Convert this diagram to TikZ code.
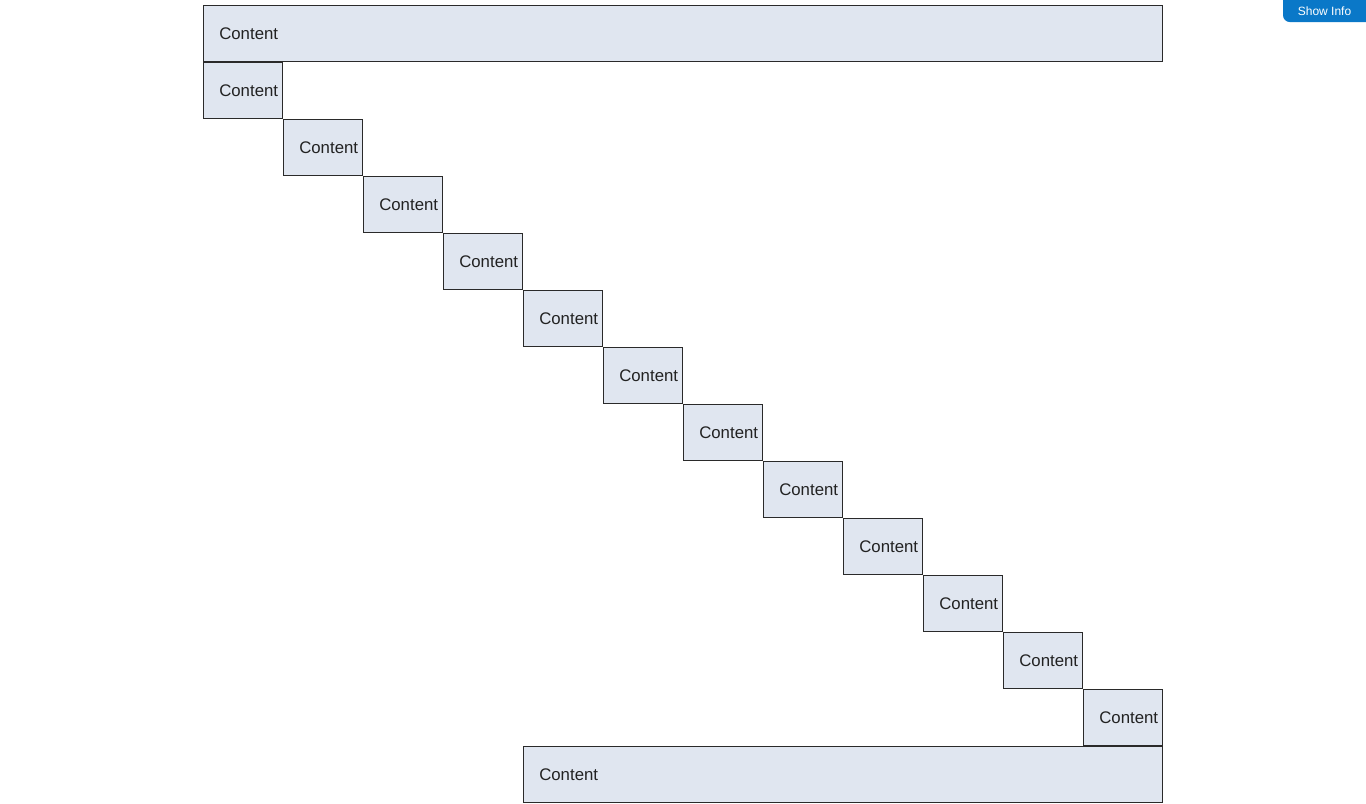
\documentclass[tikz,border=0pt]{standalone}
\usepackage{fontspec}
\setmainfont{Liberation Sans}
\definecolor{boxfill}{HTML}{E0E6F0}
\definecolor{boxline}{HTML}{2A2A2A}
\definecolor{btnblue}{HTML}{0A78C8}
\definecolor{txt}{HTML}{222222}
\begin{document}
\begin{tikzpicture}[x=0.75pt,y=-0.75pt,
  cell/.style={draw=boxline,fill=boxfill,line width=0.75pt},
  label/.style={anchor=west,text=txt,font=\fontsize{12.6}{14}\selectfont,inner sep=0pt}]
\useasboundingbox (0,0) rectangle (1366,803);
\fill[white] (0,0) rectangle (1366,803);

% wide header row
\draw[cell] (203.5,5.5) rectangle (1162.5,61.5);
\node[label] (top) at (219,34) {Content};

% diagonal staircase of cells
\foreach \i in {0,...,11}{
  \pgfmathsetmacro{\xl}{203.5+80*\i}
  \pgfmathsetmacro{\yt}{62.5+57*\i}
  \draw[cell] (\xl,\yt) rectangle ({\xl+79},{\yt+56});
  \node[label] (c\i) at ({\xl+15.5},{\yt+28.5}) {Content};
}

% wide footer row
\draw[cell] (523.5,746.5) rectangle (1162.5,802.5);
\node[label] (bottom) at (539,775) {Content};

% button in the corner
\fill[btnblue,rounded corners=5pt] (1283,-10) rectangle (1376,22);
\node[text=white,font=\fontsize{9}{11}\selectfont,inner sep=0pt] (info) at (1324.5,11) {Show Info};
\end{tikzpicture}
\end{document}
